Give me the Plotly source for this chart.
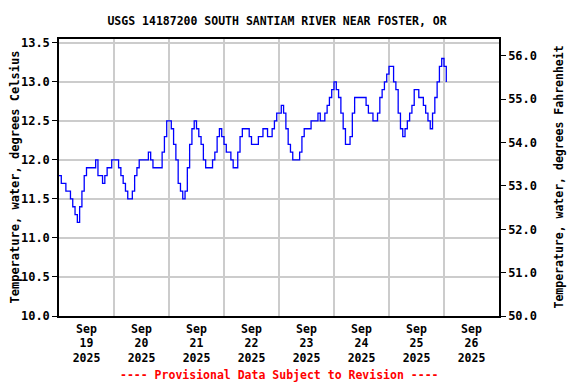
import pandas as pd
import plotly.graph_objects as go

# Hourly water temperature (deg C) starting 2025-09-19 00:00
start_time = "2025-09-19 00:00"
temps_c = [
    11.8, 11.7, 11.7, 11.6, 11.6, 11.5, 11.4, 11.3, 11.2, 11.4,
    11.6, 11.8, 11.9, 11.9, 11.9, 11.9, 12.0, 11.8, 11.8, 11.7,
    11.8, 11.9, 11.9, 12.0, 12.0, 12.0, 11.9, 11.8, 11.7, 11.6,
    11.5, 11.5, 11.6, 11.8, 11.9, 12.0, 12.0, 12.0, 12.0, 12.1,
    12.0, 11.9, 11.9, 11.9, 11.9, 12.1, 12.3, 12.5, 12.5, 12.4,
    12.2, 12.0, 11.7, 11.6, 11.5, 11.6, 11.9, 12.2, 12.4, 12.5,
    12.4, 12.3, 12.2, 12.0, 11.9, 11.9, 11.9, 12.0, 12.1, 12.3,
    12.4, 12.3, 12.2, 12.1, 12.1, 12.0, 11.9, 11.9, 12.1, 12.3,
    12.4, 12.4, 12.4, 12.3, 12.2, 12.2, 12.2, 12.3, 12.3, 12.4,
    12.4, 12.3, 12.3, 12.4, 12.5, 12.6, 12.6, 12.7, 12.6, 12.4,
    12.2, 12.1, 12.0, 12.0, 12.0, 12.1, 12.3, 12.4, 12.4, 12.4,
    12.5, 12.5, 12.5, 12.6, 12.5, 12.5, 12.6, 12.7, 12.8, 12.9,
    13.0, 12.9, 12.8, 12.6, 12.4, 12.2, 12.2, 12.3, 12.6, 12.8,
    12.8, 12.8, 12.8, 12.8, 12.7, 12.6, 12.6, 12.5, 12.5, 12.6,
    12.8, 12.9, 13.0, 13.1, 13.2, 13.2, 13.0, 12.9, 12.6, 12.4,
    12.3, 12.4, 12.5, 12.6, 12.7, 12.9, 12.9, 12.8, 12.8, 12.7,
    12.6, 12.5, 12.4, 12.6, 12.8, 13.0, 13.2, 13.3, 13.2, 13.0,
]
times = pd.date_range(start_time, periods=len(temps_c), freq="h")
temps_f = [c * 1.8 + 32 for c in temps_c]

day_labels = ["Sep<br>19<br>2025", "Sep<br>20<br>2025", "Sep<br>21<br>2025",
              "Sep<br>22<br>2025", "Sep<br>23<br>2025", "Sep<br>24<br>2025",
              "Sep<br>25<br>2025", "Sep<br>26<br>2025"]
label_times = [t.strftime("%Y-%m-%d %H:%M") for t in
               pd.date_range("2025-09-19 12:00", periods=len(day_labels), freq="D")]
grid_times = [t.strftime("%Y-%m-%d %H:%M") for t in
              pd.date_range("2025-09-19 00:00", periods=9, freq="D")]
x_range = ["2025-09-19 00:00", "2025-09-27 00:00"]

c_ticks = [10.0, 10.5, 11.0, 11.5, 12.0, 12.5, 13.0, 13.5]
f_ticks = [50, 51, 52, 53, 54, 55, 56]
c_range = [10.0, 13.55]
f_range = [c_range[0] * 1.8 + 32, c_range[1] * 1.8 + 32]

FONT = "DejaVu Sans Mono"

fig = go.Figure()
fig.add_trace(go.Scatter(x=times, y=temps_f, mode="lines", xaxis="x2", yaxis="y2",
                         line=dict(color="rgba(0,0,0,0)", width=0),
                         showlegend=False, hoverinfo="skip"))
fig.add_trace(go.Scatter(x=times, y=temps_c, mode="lines", line_shape="hv",
                         line=dict(color="#0000ff", width=1.3), showlegend=False))

fig.update_layout(
    width=576, height=384,
    margin=dict(l=59, r=77, t=39, b=68),
    paper_bgcolor="white", plot_bgcolor="white",
    font=dict(family=FONT, size=12, color="black"),
    title=dict(text="<b>USGS 14187200 SOUTH SANTIAM RIVER NEAR FOSTER, OR</b>",
               x=0.481, xanchor="center", y=1 - 21 / 384, yanchor="middle",
               yref="container", font=dict(size=11.5), automargin=False),
    xaxis=dict(
        range=x_range, type="date",
        tickvals=grid_times, showticklabels=False, ticks="",
        showgrid=True, gridcolor="#cccccc", gridwidth=1.5,
        showline=True, linecolor="black", linewidth=1.5, mirror=True,
        zeroline=False, automargin=False,
    ),
    xaxis2=dict(
        range=x_range, type="date", overlaying="x", side="bottom",
        tickvals=label_times, ticktext=["<b>%s</b>" % t for t in day_labels],
        ticks="", showgrid=False, tickfont=dict(size=11.5),
        ticklabelstandoff=4,
        zeroline=False, automargin=False,
    ),
    yaxis=dict(
        range=c_range, tickvals=c_ticks,
        ticktext=["<b>%.1f</b>" % v for v in c_ticks],
        ticks="outside", ticklen=5, tickcolor="black",
        showgrid=True, gridcolor="#cccccc", gridwidth=1.5,
        showline=True, linecolor="black", linewidth=1.5, mirror=True,
        zeroline=False, automargin=False,
    ),
    yaxis2=dict(
        range=f_range, tickvals=f_ticks,
        ticktext=["<b>%.1f</b>" % v for v in f_ticks],
        overlaying="y", side="right",
        ticks="outside", ticklen=5, tickcolor="black",
        showgrid=False, zeroline=False, automargin=False,
        showline=True, linecolor="black", linewidth=1.5,
    ),
    annotations=[
        dict(text="<b>Temperature, water, degrees Celsius</b>",
             xref="paper", yref="paper", x=-45 / 440, y=0.5, textangle=-90,
             xanchor="center", yanchor="middle", showarrow=False,
             font=dict(family=FONT, size=12, color="black")),
        dict(text="<b>Temperature, water, degrees Fahrenheit</b>",
             xref="paper", yref="paper", x=1 + 59 / 440, y=0.5, textangle=-90,
             xanchor="center", yanchor="middle", showarrow=False,
             font=dict(family=FONT, size=11.5, color="black")),
        dict(text="<b>---- Provisional Data Subject to Revision ----</b>",
             xref="paper", yref="paper", x=0.5, y=-59.3 / 276.7,
             xanchor="center", yanchor="middle", showarrow=False,
             font=dict(family=FONT, size=11.5, color="red")),
    ],
)

fig.write_html("out.html", config={"displayModeBar": False},
               post_script="document.body.style.margin='0px';document.body.style.padding='0px';")
